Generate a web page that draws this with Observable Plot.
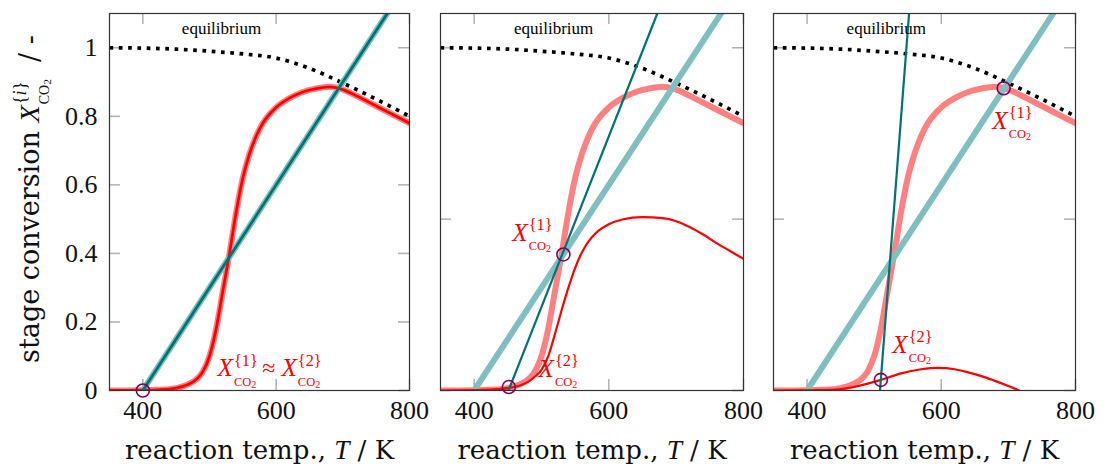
<!DOCTYPE html>
<html><head><meta charset="utf-8">
<script src="https://cdn.jsdelivr.net/npm/d3@7"></script>
<script src="https://cdn.jsdelivr.net/npm/@observablehq/plot@0.6"></script>
<style>
body{margin:0;background:#fff}
#wrap{position:relative;width:1103px;height:465px;background:#fff}
#wrap svg{position:absolute;top:0}
</style>
</head><body><div id="wrap"></div>
<script>
// ---------- data ----------
const xTickValues = [400, 600, 800];
const yTicksP1 = [0, 0.2, 0.4, 0.6, 0.8, 1];
const yTicksP23 = [0, 0.5, 1];

// equilibrium conversion
const eqT = [350, 400, 450, 500, 550, 600, 650, 700, 750, 800];
const eqX = [1.0, 0.999, 0.996, 0.99, 0.982, 0.97, 0.94, 0.897, 0.85, 0.80];

// stage-1 conversion curve (same in all panels)
const s1T = [350,400,420,440,450,460,470,480,490,500,510,520,530,540,550,560,570,580,590,600,620,640,660,680,700,720,740,760,780,800];
const s1X = [0,0.001,0.002,0.004,0.007,0.012,0.02,0.032,0.055,0.1,0.18,0.29,0.4,0.52,0.62,0.69,0.742,0.78,0.806,0.826,0.853,0.871,0.881,0.886,0.878,0.86,0.84,0.82,0.8,0.78];

// stage-2 conversion curves
const s2T_p1 = s1T;
const s2X_p1 = s1X;
const s2T_p2 = [350,400,430,450,470,480,490,500,510,520,530,540,550,560,570,580,600,620,650,680,700,720,740,760,780,800];
const s2X_p2 = [0,0.001,0.003,0.007,0.016,0.025,0.04,0.06,0.1,0.165,0.235,0.3,0.358,0.403,0.435,0.458,0.485,0.499,0.506,0.503,0.494,0.477,0.455,0.43,0.407,0.384];
const s2T_p3 = [350,420,450,480,510,540,570,595,620,640,660,680,700,716];
const s2X_p3 = [0,0.001,0.004,0.015,0.031,0.05,0.062,0.066,0.062,0.053,0.042,0.028,0.013,0];

// operating lines
const opT_stage1 = [400, 800];
const opX_stage1 = [0, 1.2];
const opT_p1 = [400, 800];
const opX_p1 = [0, 1.2];
const opT_p2 = [451, 672];
const opX_p2 = [0, 1.1];
const opT_p3 = [508.7, 552];
const opX_p3 = [0, 1.1];

// operating points (circles)
const circT_p1 = [400];
const circX_p1 = [0];
const circT_p2 = [451.5, 532.5];
const circX_p2 = [0.01, 0.397];
const circT_p3 = [510, 693];
const circX_p3 = [0.031, 0.882];

// annotations
const eqLabelT = [518];
const eqLabelX = [1.041];
const eqLabelText = ["equilibrium"];
const labT_p1 = [512];
const labX_p1 = [0.041];
const labText_p1 = ["$X$^{1}_{CO2} ≈ $X$^{2}_{CO2}"];
const labT_p2 = [456.6, 495.7];
const labX_p2 = [0.437, 0.039];
const labText_p2 = ["$X$^{1}_{CO2}", "$X$^{2}_{CO2}"];
const labT_p3 = [676, 527];
const labX_p3 = [0.763, 0.109];
const labText_p3 = ["$X$^{1}_{CO2}", "$X$^{2}_{CO2}"];
const xLabel = "reaction temp., $T$ / K";
const yLabel = "stage conversion $X$^{i}_{CO2}  / -";

// ---------- drawing ----------
const rows = (T, X, S) => T.map((t, i) => ({T: t, X: X[i], s: S ? S[i] : null}));
const HEIGHT = 465, MT = 13, MB = 75;

function panel(cfg) {
  const W = cfg.width - cfg.ml - cfg.mr, H = HEIGHT - MT - MB;
  const tickStyle = {stroke: "#b0b0b0", strokeWidth: 1.5};
  const marks = [
    Plot.tickY(cfg.yTicks, {y: d => d, ...tickStyle, insetRight: W - 11}),
    Plot.tickY(cfg.yTicks, {y: d => d, ...tickStyle, insetLeft: W - 11}),
    Plot.tickX(xTickValues, {x: d => d, ...tickStyle, insetBottom: H - 11}),
    Plot.tickX(xTickValues, {x: d => d, ...tickStyle, insetTop: H - 11}),
    Plot.line(rows(eqT, eqX), {x: "T", y: "X", stroke: "black", strokeWidth: 3.7, strokeDasharray: "3.7,5.6", strokeLinecap: "butt", curve: "monotone-x", clip: true}),
    Plot.line(rows(s1T, s1X), {x: "T", y: "X", stroke: "#ff8080", strokeWidth: 6, curve: "monotone-x", clip: true}),
    Plot.line(rows(opT_stage1, opX_stage1), {x: "T", y: "X", stroke: "#80bfbf", strokeWidth: 6, clip: true}),
    Plot.line(rows(cfg.s2T, cfg.s2X), {x: "T", y: "X", stroke: "#ff0000", strokeWidth: cfg.thin, curve: "monotone-x", clip: true}),
    Plot.line(rows(cfg.opT, cfg.opX), {x: "T", y: "X", stroke: "#007373", strokeWidth: cfg.thin, clip: true}),
    Plot.dot(rows(cfg.circT, cfg.circX), {x: "T", y: "X", r: 6.5, stroke: "#800060", strokeWidth: 1.6, fill: "none"}),
    Plot.text(rows(eqLabelT, eqLabelX, eqLabelText), {x: "T", y: "X", text: "s", fontSize: 17, lineAnchor: "bottom", fill: "black"}),
    Plot.text(rows(cfg.labT, cfg.labX, cfg.labText), {x: "T", y: "X", text: "s", fontSize: 24, textAnchor: "start", lineAnchor: "bottom", fill: "#ff0000"}),
    Plot.text([xLabel], {text: d => d, frameAnchor: "bottom", textAnchor: "middle", dy: 68, lineAnchor: "bottom", fontSize: 26, fontFamily: "DejaVu Serif", fill: "#111"}),
    Plot.axisX(xTickValues, {tickSize: 0, tickPadding: 10, fontSize: 26, label: null, fill: "#111"}),
    Plot.frame({stroke: "#333", strokeWidth: 1.2})
  ];
  if (cfg.yAxis) {
    marks.push(Plot.axisY(cfg.yTicks, {tickSize: 0, tickPadding: 12, fontSize: 26, label: null, tickFormat: d => String(d), fill: "#111"}));
    marks.push(Plot.text([yLabel], {text: d => d, frameAnchor: "left", textAnchor: "middle", dx: -71, dy: -3, rotate: -90, lineAnchor: "bottom", fontSize: 27, fontFamily: "DejaVu Serif", fill: "#111"}));
  }
  const svg = Plot.plot({
    width: cfg.width, height: HEIGHT,
    marginLeft: cfg.ml, marginRight: cfg.mr, marginTop: MT, marginBottom: MB,
    x: {domain: [350, 800]},
    y: {domain: [0, 1.1], ...(cfg.yAxis ? {} : {axis: null})},
    style: {fontFamily: "Liberation Serif", background: "transparent", overflow: "visible", maxWidth: "none"},
    marks
  });
  svg.style.left = cfg.left + "px";
  return svg;
}

const wrap = document.getElementById("wrap");
const panels = [
  {left: 0, width: 420, ml: 109, mr: 11, yTicks: yTicksP1, yAxis: true, thin: 2.8,
   s2T: s2T_p1, s2X: s2X_p1, opT: opT_p1, opX: opX_p1, circT: circT_p1, circX: circX_p1,
   labT: labT_p1, labX: labX_p1, labText: labText_p1},
  {left: 420, width: 340, ml: 20, mr: 17, yTicks: yTicksP23, yAxis: false, thin: 2.2,
   s2T: s2T_p2, s2X: s2X_p2, opT: opT_p2, opX: opX_p2, circT: circT_p2, circX: circX_p2,
   labT: labT_p2, labX: labX_p2, labText: labText_p2},
  {left: 760, width: 343, ml: 13, mr: 28, yTicks: yTicksP23, yAxis: false, thin: 2.2,
   s2T: s2T_p3, s2X: s2X_p3, opT: opT_p3, opX: opX_p3, circT: circT_p3, circX: circX_p3,
   labT: labT_p3, labX: labX_p3, labText: labText_p3}
];
for (const cfg of panels) wrap.appendChild(panel(cfg));

// ---------- math-like text: italics, superscripts, subscripts ----------
const NS = "http://www.w3.org/2000/svg";
function texify(el) {
  const src = el.textContent;
  const base = parseFloat(getComputedStyle(el).fontSize) || 20;
  const parts = src.split(/(\$[^$]+\$|\^\{[^}]*\}|_\{[^}]*\})/).filter(s => s);
  el.textContent = "";
  let shift = 0, supLen = 0;
  function add(str, o = {}) {
    const t = document.createElementNS(NS, "tspan");
    t.textContent = str;
    const target = o.shift || 0;
    if (target !== shift) { t.setAttribute("dy", target - shift); shift = target; }
    if (o.dx) t.setAttribute("dx", o.dx);
    if (o.size) t.setAttribute("font-size", o.size);
    if (o.italic) t.setAttribute("font-style", "italic");
    if (o.family) t.setAttribute("font-family", o.family);
    el.appendChild(t);
    return t;
  }
  for (const p of parts) {
    if (p.startsWith("$")) add(p.slice(1, -1), {italic: true, family: "Liberation Serif", size: base * 1.05});
    else if (p.startsWith("^{")) {
      const inner = p.slice(2, -1), sz = base * 0.68, sh = -0.45 * base;
      const a = add("{", {shift: sh, size: sz, family: "Liberation Serif", dx: 1});
      const b = add(inner, {shift: sh, size: sz, italic: /[a-z]/.test(inner), family: "Liberation Serif"});
      const c = add("}", {shift: sh, size: sz, family: "Liberation Serif"});
      supLen = a.getComputedTextLength() + b.getComputedTextLength() + c.getComputedTextLength();
    } else if (p.startsWith("_{")) {
      const m = p.slice(2, -1).match(/^(\D+)(\d*)$/);
      add(m[1], {shift: 0.38 * base, size: base * 0.52, dx: -supLen, family: "Liberation Serif"});
      if (m[2]) add(m[2], {shift: 0.47 * base, size: base * 0.42, family: "Liberation Serif"});
      supLen = 0;
    } else add(p, {});
  }
}
wrap.querySelectorAll("text").forEach(el => {
  if (el.textContent.includes("$") || el.textContent.includes("^{")) texify(el);
});
</script>
</body></html>
